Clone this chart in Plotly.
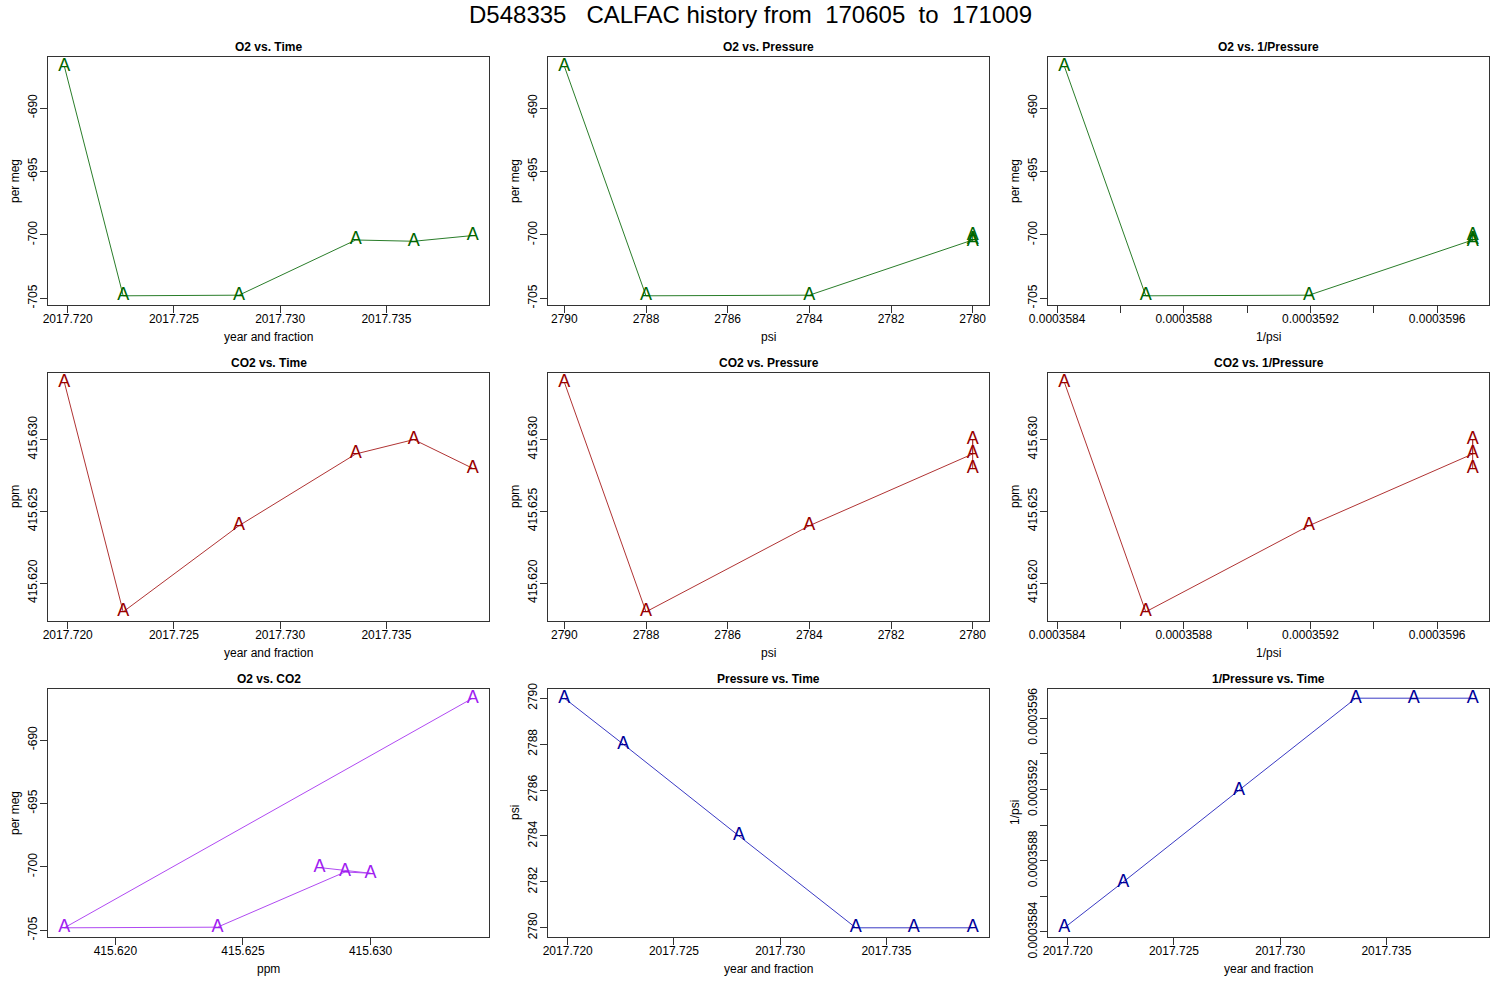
import plotly.graph_objects as go

# values
time = [2017.71984, 2017.72261, 2017.72806, 2017.73356, 2017.73629, 2017.73906]
o2 = [-686.7, -704.8, -704.75, -700.4, -700.5, -700.05]
co2 = [415.6340, 415.6180, 415.6240, 415.6290, 415.6300, 415.6280]
pressure = [2790, 2788, 2784, 2780, 2780, 2780]
inv_p = [1.0 / p for p in pressure]

time_ticks = [2017.720, 2017.725, 2017.730, 2017.735]
o2_ticks = [-705, -700, -695, -690]
co2_ticks = [415.620, 415.625, 415.630]
p_ticks = [2790, 2788, 2786, 2784, 2782, 2780]
invp_ticks = [0.0003584, 0.0003586, 0.0003588, 0.0003590, 0.0003592, 0.0003594, 0.0003596]
invp_labels = ["0.0003584", "", "0.0003588", "", "0.0003592", "", "0.0003596"]

GREEN = ("#006600", "#2a7d2a")
RED = ("#990000", "#b03333")
PURPLE = ("#a020f0", "#b04af2")
BLUE = ("#000099", "#3a3ac4")

FONT = "Liberation Sans, Arial, sans-serif"
W, H = 1500, 1000
COLS = [(48, 489), (548, 989), (1048, 1489)]
ROWS = [(57, 305), (373, 621), (689, 937)]


def px(x):
    return x / W


def py(y):
    return 1 - y / H


def rng(v, rev=False):
    lo, hi = min(v), max(v)
    pad = (hi - lo) * 0.04
    r = [lo - pad, hi + pad]
    return r[::-1] if rev else r


def fmt(vals):
    return [f"{v:.3f}" if isinstance(v, float) else str(v) for v in vals]


# (row, col, title, x, y, xlab, ylab, colors, xticks, xtext, yticks, ytext, xrev)
panels = [
    (0, 0, "O2 vs. Time", time, o2, "year and fraction", "per meg", GREEN,
     time_ticks, None, o2_ticks, None, False),
    (0, 1, "O2 vs. Pressure", pressure, o2, "psi", "per meg", GREEN,
     p_ticks, None, o2_ticks, None, True),
    (0, 2, "O2 vs. 1/Pressure", inv_p, o2, "1/psi", "per meg", GREEN,
     invp_ticks, invp_labels, o2_ticks, None, False),
    (1, 0, "CO2 vs. Time", time, co2, "year and fraction", "ppm", RED,
     time_ticks, None, co2_ticks, None, False),
    (1, 1, "CO2 vs. Pressure", pressure, co2, "psi", "ppm", RED,
     p_ticks, None, co2_ticks, None, True),
    (1, 2, "CO2 vs. 1/Pressure", inv_p, co2, "1/psi", "ppm", RED,
     invp_ticks, invp_labels, co2_ticks, None, False),
    (2, 0, "O2 vs. CO2", co2, o2, "ppm", "per meg", PURPLE,
     co2_ticks, None, o2_ticks, None, False),
    (2, 1, "Pressure vs. Time", time, pressure, "year and fraction", "psi", BLUE,
     time_ticks, None, p_ticks, None, False),
    (2, 2, "1/Pressure vs. Time", time, inv_p, "year and fraction", "1/psi", BLUE,
     time_ticks, None, invp_ticks, invp_labels, False),
]

fig = go.Figure()
annotations = []
layout = {}

for i, (r, c, title, xs, ys, xlab, ylab, col, xt, xtt, yt, ytt, xrev) in enumerate(panels):
    n = i + 1
    xa = "x" if n == 1 else f"x{n}"
    ya = "y" if n == 1 else f"y{n}"
    x0, x1 = COLS[c]
    y0, y1 = ROWS[r]

    fig.add_trace(go.Scatter(
        x=xs, y=ys, xaxis=xa, yaxis=ya,
        mode="lines+text", text=["A"] * len(xs),
        textposition="middle center",
        textfont=dict(family=FONT, size=18, color=col[0]),
        line=dict(color=col[1], width=1),
        cliponaxis=False, showlegend=False, hoverinfo="x+y",
    ))

    axis_common = dict(
        showline=True, mirror=True, linecolor="#333333", linewidth=1,
        ticks="outside", ticklen=7, tickcolor="#333333", tickwidth=1,
        showgrid=False, zeroline=False, automargin=False,
        tickfont=dict(family=FONT, size=12, color="black"),
    )
    xd = dict(axis_common, domain=[px(x0), px(x1)], anchor=ya,
              range=rng(xs, xrev), tickmode="array", tickvals=xt,
              ticktext=xtt if xtt else fmt(xt), ticklabelstandoff=-4)
    yd = dict(axis_common, domain=[py(y1), py(y0)], anchor=xa,
              range=rng(ys), tickmode="array", tickvals=yt, tickangle=-90,
              ticktext=ytt if ytt else fmt(yt), ticklabelstandoff=-2)
    layout["xaxis" if n == 1 else f"xaxis{n}"] = xd
    layout["yaxis" if n == 1 else f"yaxis{n}"] = yd

    cx = px((x0 + x1) / 2)
    annotations.append(dict(
        text=f"<b>{title}</b>", x=cx, y=py(y0 - 10), xref="paper", yref="paper",
        showarrow=False, font=dict(family=FONT, size=12, color="black"),
        xanchor="center", yanchor="middle"))
    annotations.append(dict(
        text=xlab, x=cx, y=py(y1 + 32), xref="paper", yref="paper",
        showarrow=False, font=dict(family=FONT, size=12, color="black"),
        xanchor="center", yanchor="middle"))
    annotations.append(dict(
        text=ylab, x=px(x0 - 33), y=py((y0 + y1) / 2), xref="paper", yref="paper",
        showarrow=False, textangle=-90, font=dict(family=FONT, size=12, color="black"),
        xanchor="center", yanchor="middle"))

main_title = "D548335\u00a0\u00a0\u00a0CALFAC history from\u00a0\u00a0170605\u00a0\u00a0to\u00a0\u00a0171009"
annotations.append(dict(
    text=main_title, x=px(750), y=py(14), xref="paper", yref="paper",
    showarrow=False, font=dict(family=FONT, size=24, color="black"),
    xanchor="center", yanchor="middle"))

fig.update_layout(
    width=W, height=H,
    margin=dict(l=0, r=0, t=0, b=0, autoexpand=False),
    paper_bgcolor="white", plot_bgcolor="white",
    annotations=annotations,
    **layout,
)

# drop the browser's default page margin so the figure sits at the top-left corner
fig.write_html("out.html", config={"displayModeBar": False},
               post_script="document.body.style.margin='0px';")
